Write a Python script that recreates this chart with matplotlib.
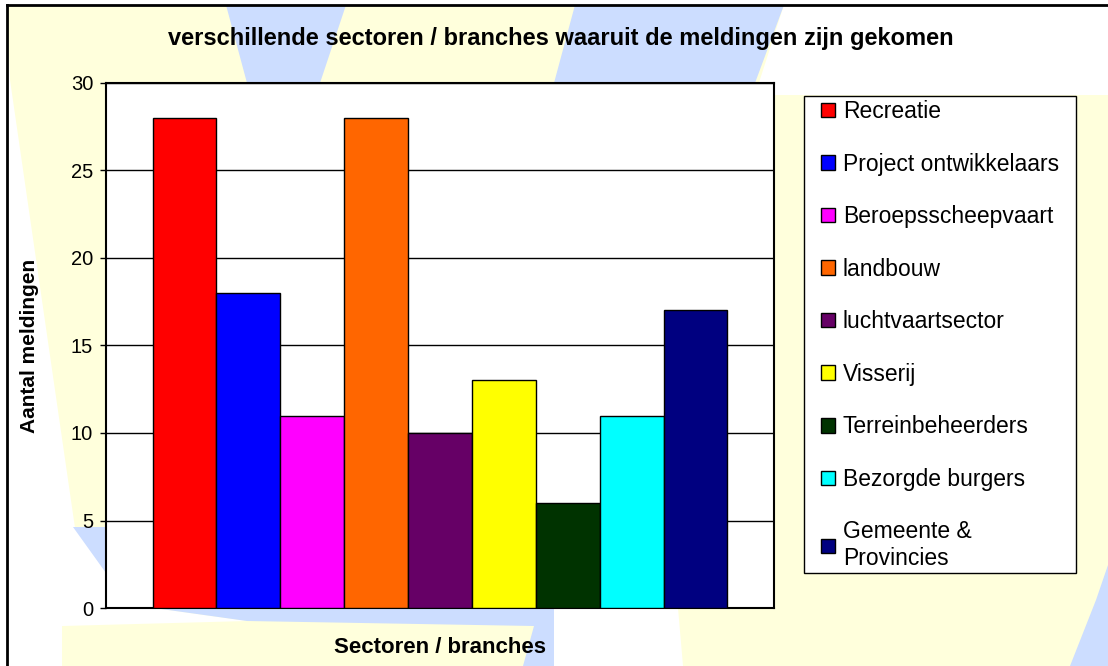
import matplotlib
matplotlib.use('Agg')
import matplotlib.pyplot as plt
from matplotlib.patches import Polygon, Rectangle
from matplotlib.lines import Line2D

plt.rcParams['font.family'] = 'Liberation Sans'

title = 'verschillende sectoren / branches waaruit de meldingen zijn gekomen'
sectors = ['Recreatie', 'Project ontwikkelaars', 'Beroepsscheepvaart', 'landbouw',
           'luchtvaartsector', 'Visserij', 'Terreinbeheerders', 'Bezorgde burgers',
           'Gemeente &\nProvincies']
counts = [28, 18, 11, 28, 10, 13, 6, 11, 17]
colors = ['#FF0000', '#0000FF', '#FF00FF', '#FF6600', '#660066', '#FFFF00',
          '#003300', '#00FFFF', '#000080']
y_ticks = [0, 5, 10, 15, 20, 25, 30]

W, H = 1108, 666
fig = plt.figure(figsize=(W / 100, H / 100), dpi=100)
fig.patch.set_facecolor('#FFFFDC')


def px(points):
    # pixel coords (origin top left) -> figure fraction
    return [(x / W, 1 - y / H) for x, y in points]


# watermark in the background
white = '#FFFFFF'
blue = '#CCDDFF'
shapes = [
    (white, [(0, 0), (W, 0), (W, 5), (0, 5)]),
    (white, [(0, 5), (7, 5), (10, 80), (75, 528), (106, 572), (106, 608), (154, 608),
             (247, 621), (62, 626), (62, H), (0, H)]),
    (white, [(784, 5), (W, 5), (W, 95), (755, 95)]),
    (white, [(554, 608), (678, 608), (683, H), (554, H)]),
    (blue, [(226, 5), (346, 5), (320, 83), (247, 83)]),
    (blue, [(575, 5), (784, 5), (755, 83), (554, 83)]),
    (blue, [(73, 527), (106, 527), (106, 573)]),
    (blue, [(154, 608), (554, 608), (554, H), (523, H), (534, 626), (247, 621)]),
    (blue, [(1108, 565), (1108, H), (1070, H), (1096, 600)]),
]
for color, pts in shapes:
    fig.add_artist(Polygon(px(pts), closed=True, facecolor=color, edgecolor='none',
                           transform=fig.transFigure, zorder=-5))

# frame of the chart area
fig.add_artist(Line2D([7 / W, 7 / W], [1 - 5 / H, 0], color='black', lw=2,
                      transform=fig.transFigure))
fig.add_artist(Line2D([7 / W, 1], [1 - 5 / H, 1 - 5 / H], color='black', lw=2,
                      transform=fig.transFigure))

# legend box
fig.add_artist(Rectangle((804 / W, 1 - 573 / H), 272 / W, 477 / H, facecolor='white',
                         edgecolor='black', linewidth=1, transform=fig.transFigure,
                         zorder=-1))

ax = fig.add_axes([106 / W, 1 - 608 / H, 668 / W, 525 / H])
ax.set_facecolor('white')

x = list(range(len(counts)))
ax.bar(x, counts, width=1.0, color=colors, edgecolor='black', linewidth=1,
       label=sectors, zorder=3)

ax.set_xlim(-1.23, len(counts) - 1 + 1.23)
ax.set_ylim(0, 30)
ax.set_yticks(y_ticks)
ax.set_xticks([])
ax.yaxis.grid(True, color='black', linewidth=1)
ax.set_axisbelow(True)
for s in ax.spines.values():
    s.set_linewidth(1.5)
    s.set_color('black')
ax.tick_params(axis='y', direction='out', length=4.3, width=1, labelsize=14.5, pad=5)

ax.set_ylabel('Aantal meldingen', fontsize=15, fontweight='bold')
ax.yaxis.set_label_coords(-0.100, 0.5)
ax.set_xlabel('Sectoren / branches', fontsize=16, fontweight='bold')
ax.xaxis.set_label_coords(0.5, -0.055)

fig.text(561 / W, 1 - 39 / H, title, ha='center', va='center',
         fontsize=17, fontweight='bold')

leg = ax.legend(loc='upper left', bbox_to_anchor=(821 / W, 1 - 100 / H),
                bbox_transform=fig.transFigure, frameon=False, borderaxespad=0,
                borderpad=0, handlelength=0.6, handleheight=0.6, handletextpad=0.35,
                labelspacing=1.29, fontsize=16.5)

fig.savefig('out.png', dpi=100, facecolor=fig.get_facecolor())
